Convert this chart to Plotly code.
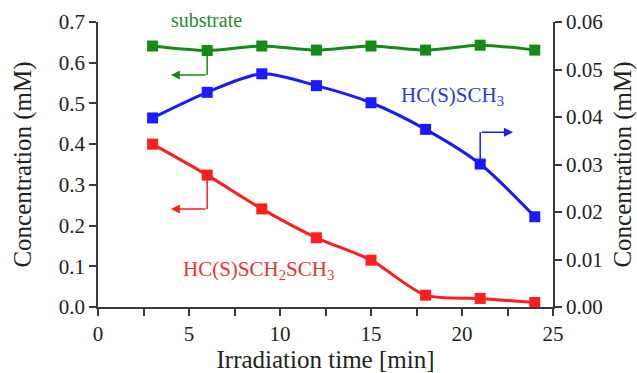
import plotly.graph_objects as go

# Data
time_min = [3, 6, 9, 12, 15, 18, 21, 24]
substrate = [0.641, 0.630, 0.641, 0.631, 0.641, 0.631, 0.643, 0.631]          # left axis (mM)
hcsch3 = [0.0398, 0.0452, 0.0491, 0.0466, 0.0430, 0.0374, 0.0301, 0.0190]      # right axis (mM)
hcsch2sch3 = [0.400, 0.324, 0.241, 0.170, 0.115, 0.029, 0.021, 0.011]          # left axis (mM)

x_ticks = [0, 5, 10, 15, 20, 25]
y_ticks = [0.0, 0.1, 0.2, 0.3, 0.4, 0.5, 0.6, 0.7]
y2_ticks = [0.00, 0.01, 0.02, 0.03, 0.04, 0.05, 0.06]

GREEN = "#168a16"
BLUE = "#1a1aff"
RED = "#ff1e1e"
FONT = "Liberation Serif"
AXC = "#3a3a3a"

fig = go.Figure()

def add_series(y, color, axis):
    fig.add_trace(go.Scatter(
        x=time_min, y=y, mode="lines+markers", yaxis=axis,
        line=dict(color=color, width=3, shape="spline", smoothing=0.8),
        marker=dict(symbol="square", size=11, color=color),
        showlegend=False, hoverinfo="skip"))

add_series(substrate, GREEN, "y")
add_series(hcsch3, BLUE, "y2")
add_series(hcsch2sch3, RED, "y")

# L-shaped pointer arrows (start at a data point, corner, then arrow tip)
arrows = [
    # (x index, series, axis, corner value, tip x, colour)
    (1, substrate, "y", 0.570, 4.0, GREEN),
    (1, hcsch2sch3, "y", 0.241, 4.0, RED),
    (6, hcsch3, "y2", 0.0368, 22.8, BLUE),
]
for idx, series, ax_name, corner, tip_x, col in arrows:
    xv = time_min[idx]
    fig.add_shape(type="line", xref="x", yref=ax_name,
                  x0=xv, x1=xv, y0=series[idx], y1=corner,
                  line=dict(color=col, width=1.5), layer="below")
    fig.add_annotation(x=tip_x, y=corner, ax=xv, ay=corner,
                       xref="x", yref=ax_name, axref="x", ayref=ax_name,
                       text="", showarrow=True, arrowhead=2, arrowsize=1.2,
                       arrowwidth=1.5, arrowcolor=col, standoff=0)

# Labels
fig.add_annotation(x=5.95, y=1.007, xref="x", yref="paper", yanchor="middle",
                   text="substrate", showarrow=False,
                   font=dict(family=FONT, size=20, color="#2a8a2a"))
fig.add_annotation(x=19.5, y=0.0445, xref="x", yref="y2", text="HC(S)SCH<sub>3</sub>",
                   showarrow=False, font=dict(family=FONT, size=21, color="#3434e0"))
fig.add_annotation(x=8.8, y=0.09, xref="x", yref="y", text="HC(S)SCH<sub>2</sub>SCH<sub>3</sub>",
                   showarrow=False, font=dict(family=FONT, size=21, color="#e8323a"))

fig.update_layout(
    width=637, height=373,
    margin=dict(l=98, r=84, t=22, b=66),
    paper_bgcolor="white", plot_bgcolor="white",
    font=dict(family=FONT, size=21, color="#222"),
    xaxis=dict(range=[0, 25], tickvals=x_ticks, ticks="outside", ticklen=7,
               tickcolor=AXC, tickwidth=1.5, showline=True, linecolor=AXC, linewidth=1.5,
               showgrid=False, zeroline=False, automargin=False,
               minor=dict(dtick=2.5, ticks="outside", ticklen=7, tickcolor=AXC, tickwidth=1.5),
               title=dict(text="Irradiation time [min]", standoff=8)),
    yaxis=dict(range=[0, 0.7], tickvals=y_ticks, tickformat=".1f", ticks="outside",
               ticklen=7, tickcolor=AXC, tickwidth=1.5, showline=True, linecolor=AXC,
               linewidth=1.5, showgrid=False, zeroline=False, automargin=False,
               title=dict(text="Concentration (mM)", standoff=20)),
    yaxis2=dict(range=[0, 0.06], tickvals=y2_ticks, tickformat=".2f", overlaying="y",
                side="right", ticks="outside", ticklen=7, tickcolor=AXC, tickwidth=1.5,
                showline=True, linecolor=AXC, linewidth=1.5, showgrid=False, zeroline=False,
                automargin=False,
                title=dict(text="Concentration (mM)", standoff=14)),
)

fig.write_html("out.html")
